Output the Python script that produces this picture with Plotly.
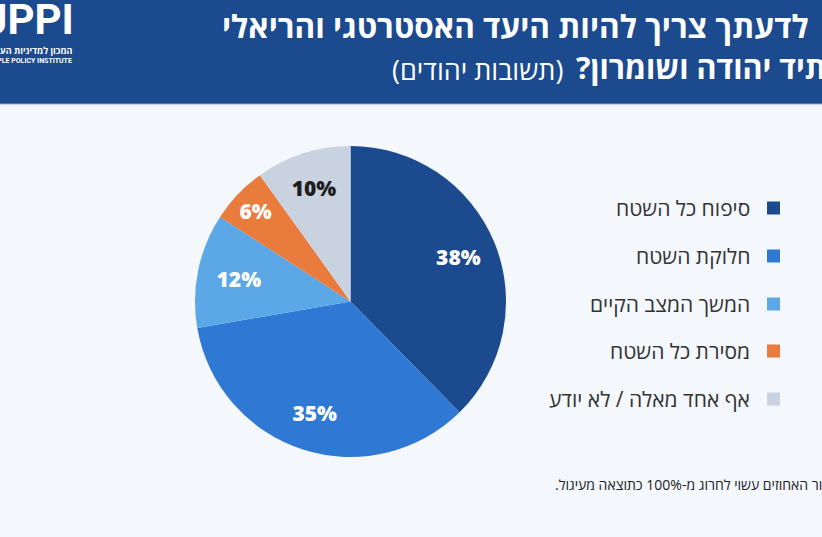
import plotly.graph_objects as go

# answers (Jewish respondents), clockwise from 12 o'clock
answers = ['סיפוח כל השטח', 'חלוקת השטח', 'המשך המצב הקיים', 'מסירת כל השטח', 'אף אחד מאלה / לא יודע']
shares = [38, 35, 12, 6, 10]
slice_colors = ['#1B4A8E', '#2F78D3', '#5CA8E6', '#E97B3C', '#C9D3E0']
label_colors = ['white', 'white', 'white', 'white', '#1E1E1E']
# big slices get their label pushed out towards the rim
label_on_ring = [True, True, False, False, False]

W, H = 822, 537
HEB = 'Open Sans, DejaVu Sans, sans-serif'
RLM = '\u200f'


def px_x(x):
    return x / W


def px_y(y):
    return 1 - y / H


def rtl(s):
    return RLM + s + RLM


pie_domain = dict(x=[px_x(195), px_x(506)], y=[px_y(457), px_y(146)])
label_font = dict(family='Open Sans, sans-serif', size=21, color=label_colors, weight=800)

fig = go.Figure()

# coloured slices (labels of the small slices)
fig.add_trace(go.Pie(
    labels=answers,
    values=shares,
    sort=False,
    direction='clockwise',
    rotation=0,
    marker=dict(colors=slice_colors, line=dict(width=0)),
    texttemplate=['' if r else '%{value}%' for r in label_on_ring],
    textposition='inside',
    insidetextorientation='horizontal',
    textfont=label_font,
    hoverinfo='label+value',
    showlegend=False,
    domain=pie_domain,
))

# transparent ring on top, carrying the labels of the big slices
fig.add_trace(go.Pie(
    labels=answers,
    values=shares,
    sort=False,
    direction='clockwise',
    rotation=0,
    hole=0.5,
    marker=dict(colors=['rgba(0,0,0,0)'] * len(shares), line=dict(width=0)),
    texttemplate=['%{value}%' if r else '' for r in label_on_ring],
    textposition='inside',
    insidetextorientation='horizontal',
    textfont=label_font,
    hoverinfo='skip',
    showlegend=False,
    domain=pie_domain,
))

shapes = [
    # header band
    dict(type='rect', xref='paper', yref='paper', x0=0, x1=1, y0=px_y(104), y1=1,
         fillcolor='#1C4A8F', line=dict(width=0), layer='below'),
    dict(type='line', xref='paper', yref='paper', x0=0, x1=1, y0=px_y(104), y1=px_y(104),
         line=dict(color='#8FA9D3', width=1)),
]
annotations = []

# legend on the right: text, then a square (RTL)
legend_y = [208, 256, 304, 351, 399]
for name, col, yy in zip(answers, slice_colors, legend_y):
    shapes.append(dict(type='rect', xref='paper', yref='paper',
                       x0=px_x(767), x1=px_x(780), y0=px_y(yy + 6.5), y1=px_y(yy - 6.5),
                       fillcolor=col, line=dict(width=0)))
    annotations.append(dict(text=rtl(name), x=px_x(752), y=px_y(yy), xref='paper', yref='paper',
                            xanchor='right', yanchor='middle', showarrow=False,
                            font=dict(family=HEB, size=21, color='#333333')))

# title (the source graphic is cropped at the right edge)
annotations.append(dict(text=rtl('<b>לדעתך צריך להיות היעד האסטרטגי והריאלי</b>'),
                        x=px_x(220), y=px_y(25), xref='paper', yref='paper',
                        xanchor='left', yanchor='middle', showarrow=False,
                        font=dict(family=HEB, size=31.5, color='white')))
annotations.append(dict(text=rtl('<b>לעתיד יהודה ושומרון?</b>'),
                        x=px_x(574), y=px_y(67), xref='paper', yref='paper',
                        xanchor='left', yanchor='middle', showarrow=False,
                        font=dict(family=HEB, size=30.5, color='white')))
annotations.append(dict(text=rtl('(תשובות יהודים)'),
                        x=px_x(390), y=px_y(69), xref='paper', yref='paper',
                        xanchor='left', yanchor='middle', showarrow=False,
                        font=dict(family=HEB, size=27, color='white')))

# logo block at top-left
annotations.append(dict(text='<b>JPPI</b>', x=px_x(76), y=px_y(20), xref='paper', yref='paper',
                        xanchor='right', yanchor='middle', showarrow=False,
                        font=dict(family='Roboto, sans-serif', size=42, color='white')))
annotations.append(dict(text=rtl('<b>המכון למדיניות העם היהודי</b>'), x=px_x(75), y=px_y(51),
                        xref='paper', yref='paper', xanchor='right', yanchor='middle', showarrow=False,
                        font=dict(family=HEB, size=9, color='white')))
annotations.append(dict(text='<b>JEWISH PEOPLE POLICY INSTITUTE</b>', x=px_x(74), y=px_y(61),
                        xref='paper', yref='paper', xanchor='right', yanchor='middle', showarrow=False,
                        font=dict(family='Roboto, sans-serif', size=7, color='white')))

# footnote
annotations.append(dict(text=rtl('* חיבור האחוזים עשוי לחרוג מ-100% כתוצאה מעיגול.'),
                        x=px_x(553), y=px_y(484), xref='paper', yref='paper',
                        xanchor='left', yanchor='middle', showarrow=False,
                        font=dict(family=HEB, size=14, color='#222222')))

fig.update_layout(
    width=W, height=H,
    margin=dict(l=0, r=0, t=0, b=0),
    paper_bgcolor='#F4F7FC',
    plot_bgcolor='#F4F7FC',
    shapes=shapes,
    annotations=annotations,
)

fig.write_html('out.html', config={'displayModeBar': False},
               post_script="document.body.style.margin='0';")
